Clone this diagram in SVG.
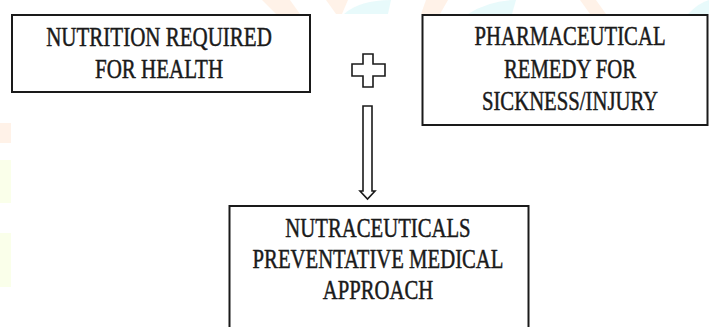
<svg xmlns="http://www.w3.org/2000/svg" width="709" height="327" viewBox="0 0 709 327">
<style>
.box{fill:#fff;stroke:#1a1a1a;stroke-width:2}
.t{font-family:"Liberation Serif","Times New Roman",serif;font-size:28px;fill:#1a1a1a;stroke:#1a1a1a;stroke-width:0.5;text-anchor:middle}
.sym{fill:#fff;stroke:#1a1a1a;stroke-width:1.6;stroke-linejoin:miter}
.wo{fill:#ffe3cc;opacity:0.45}
.wc{fill:#d2f6f8;opacity:0.5}
.wy{fill:#f6ffdc;opacity:0.6}
</style>
<rect width="709" height="327" fill="#fff"/>
<g id="watermark">
<polygon class="wo" points="262,0 290,0 300,14 276,14"/>
<polygon class="wo" points="326,0 348,0 342,14 336,14"/>
<path class="wc" d="M344,14 Q360,0 391,0 L388,14 Z"/>
<polygon class="wo" points="426,0 448,0 440,14 421,14"/>
<path class="wc" d="M468,14 Q490,0 516,0 L512,14 Z"/>
<polygon class="wo" points="580,0 596,0 606,14 590,14"/>
<path class="wc" d="M688,14 Q700,2 709,0 L709,14 Z"/>
<rect class="wo" x="0" y="123" width="11" height="20"/>
<rect class="wy" x="0" y="160" width="11" height="43"/>
<rect class="wy" x="0" y="233" width="11" height="54"/>
</g>
<g id="connectors">
<path class="sym" d="M363,106 H372 V191 H375 L367.5,199 L360,191 H363 Z"/>
</g>
<g id="plus">
<path class="sym" d="M363,54 H373 V64 H385 V76 H373 V87 H363 V76 H352 V64 H363 Z"/>
</g>
<g id="node-nutrition">
<rect class="box" x="12" y="15" width="298" height="77"/>
<g transform="translate(159,0) scale(0.75,1)">
<text class="t" x="0" y="46">NUTRITION REQUIRED</text>
<text class="t" x="0" y="78">FOR HEALTH</text>
</g>
</g>
<g id="node-pharma">
<rect class="box" x="422.5" y="15" width="285" height="110"/>
<g transform="translate(570,0) scale(0.74,1)">
<text class="t" x="0" y="45">PHARMACEUTICAL</text>
<text class="t" x="0" y="78">REMEDY FOR</text>
<text class="t" x="0" y="110">SICKNESS/INJURY</text>
</g>
</g>
<g id="node-nutraceuticals">
<rect class="box" x="229.5" y="206" width="299" height="130"/>
<g transform="translate(378,0) scale(0.74,1)">
<text class="t" x="0" y="237">NUTRACEUTICALS</text>
<text class="t" x="0" y="268">PREVENTATIVE MEDICAL</text>
<text class="t" x="0" y="299">APPROACH</text>
</g>
</g>
</svg>
